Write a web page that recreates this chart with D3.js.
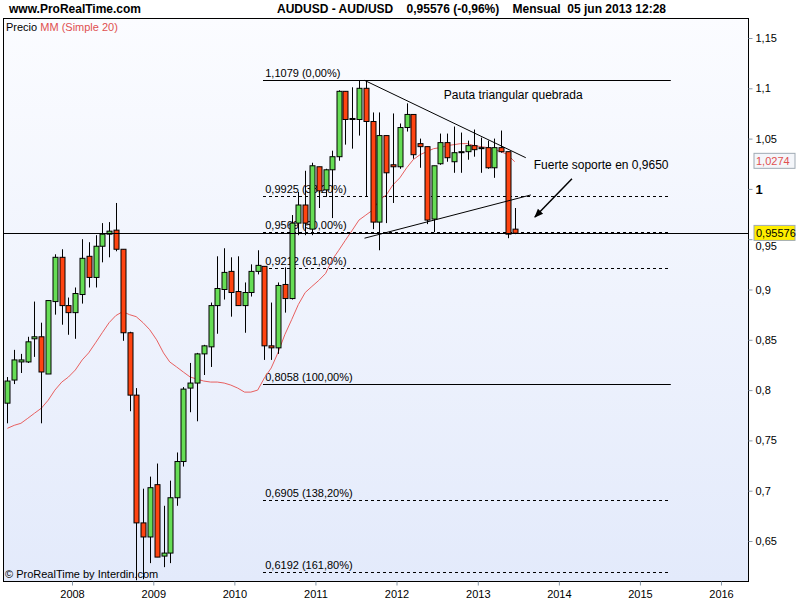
<!DOCTYPE html>
<html>
<head>
<meta charset="utf-8">
<script src="https://cdn.jsdelivr.net/npm/d3@7"></script>
<style>
body { margin: 0; background: #fff; }
svg { font-family: "Liberation Sans", Arial, sans-serif; }
</style>
</head>
<body>
<svg width="800" height="600"></svg>
<script>
// monthly candles, Mar 2007 .. Jun 2013
const startMonth = new Date(2007, 2, 1)
const opens = [0.787,0.810,0.828,0.828,0.851,0.853,0.816,0.888,0.932,0.884,0.877,0.895,0.933,0.912,0.943,0.955,0.959,0.940,0.857,0.795,
  0.668,0.654,0.706,0.635,0.638,0.693,0.729,0.802,0.807,0.836,0.843,0.884,0.900,0.918,0.898,0.884,0.897,0.918,0.923,0.844,
  0.842,0.905,0.891,0.966,0.984,0.960,1.022,0.999,1.019,1.032,1.097,1.069,1.069,1.100,1.067,0.967,1.053,1.024,1.022,1.061,
  1.074,1.045,1.042,0.970,1.025,1.046,1.027,1.036,1.037,1.043,1.040,1.041,1.021,1.041,1.037,0.960]
const closes = [0.809,0.830,0.830,0.848,0.853,0.818,0.889,0.932,0.884,0.877,0.896,0.931,0.912,0.943,0.955,0.958,0.940,0.857,0.795,0.668,
  0.654,0.703,0.634,0.638,0.693,0.729,0.801,0.807,0.836,0.844,0.884,0.901,0.917,0.897,0.884,0.897,0.918,0.924,0.844,0.842,
  0.904,0.891,0.966,0.984,0.966,1.023,0.998,1.019,1.032,1.097,1.069,1.070,1.100,1.067,0.967,1.053,1.016,1.022,1.061,1.074,
  1.034,1.042,0.969,1.023,1.046,1.031,1.036,1.037,1.043,1.039,1.041,1.021,1.041,1.037,0.955,0.956]
const highs = [0.813,0.840,0.836,0.853,0.888,0.867,0.889,0.935,0.940,0.892,0.902,0.950,0.947,0.954,0.966,0.967,0.986,0.940,0.858,0.802,
  0.702,0.714,0.727,0.685,0.710,0.738,0.803,0.827,0.837,0.845,0.887,0.933,0.941,0.932,0.933,0.907,0.925,0.939,0.923,0.887,
  0.907,0.922,0.974,0.997,1.018,1.026,1.022,1.020,1.038,1.098,1.097,1.101,1.108,1.108,1.076,1.076,1.053,1.075,1.065,1.085,
  1.074,1.050,1.042,1.023,1.055,1.055,1.062,1.056,1.048,1.059,1.051,1.048,1.050,1.058,1.037,0.981]
const lows = [0.767,0.806,0.817,0.827,0.833,0.767,0.816,0.875,0.865,0.855,0.851,0.886,0.902,0.902,0.927,0.932,0.938,0.849,0.779,0.611,
  0.612,0.628,0.634,0.624,0.628,0.685,0.724,0.778,0.769,0.815,0.823,0.856,0.890,0.873,0.884,0.857,0.893,0.915,0.830,0.830,
  0.836,0.877,0.890,0.954,0.954,0.954,0.981,0.992,0.971,1.028,1.044,1.040,1.053,0.992,0.960,0.939,0.966,0.986,1.020,1.057,
  1.030,1.021,0.965,0.957,1.024,1.027,1.016,1.016,1.029,1.032,1.016,1.020,1.011,1.036,0.951,0.955]
// MM (Simple 20)
const maValues = [0.762,0.765,0.767,0.772,0.777,0.782,0.790,0.800,0.808,0.813,0.820,0.830,0.837,0.847,0.857,0.867,0.874,0.878,0.875,0.873,
  0.867,0.860,0.850,0.837,0.828,0.823,0.818,0.813,0.811,0.809,0.808,0.808,0.807,0.805,0.802,0.798,0.798,0.800,0.812,0.822,
  0.837,0.855,0.870,0.885,0.897,0.903,0.909,0.916,0.929,0.939,0.949,0.959,0.969,0.974,0.979,0.989,0.994,1.004,1.011,1.021,
  1.029,1.034,1.037,1.040,1.041,1.043,1.044,1.045,1.045,1.043,1.042,1.041,1.039,1.037,1.034,1.027]
const fibLevels = [1.1079, 0.9925, 0.9569, 0.9212, 0.8058, 0.6905, 0.6192]
const fibLabels = ['1,1079 (0,00%)', '0,9925 (38,20%)', '0,9569 (50,00%)', '0,9212 (61,80%)', '0,8058 (100,00%)', '0,6905 (138,20%)', '0,6192 (161,80%)']
const fibSolid = [true, false, false, false, true, false, false]
const yTicks = [1.15, 1.1, 1.05, 1, 0.95, 0.9, 0.85, 0.8, 0.75, 0.7, 0.65]
const years = [2008, 2009, 2010, 2011, 2012, 2013, 2014, 2015, 2016]
const lastPrice = 0.95576
const lastMA = 1.0274

const svg = d3.select('svg')
const pLeft = 3, pRight = 748, pTop = 18, pBottom = 581

const x = d3.scaleTime()
  .domain([new Date(2008, 0, 1), new Date(2016, 0, 1)])
  .range([72, 721])
const y = d3.scaleLinear().domain([0.65, 1.15]).range([541, 38])
const mid = i => d3.timeDay.offset(d3.timeMonth.offset(startMonth, i), 15)
const fmt = v => String(+v.toFixed(5)).replace('.', ',')

const defs = svg.append('defs')
const grad = defs.append('linearGradient').attr('id', 'bg').attr('x1', 0).attr('x2', 0).attr('y1', 0).attr('y2', 1)
grad.append('stop').attr('offset', '0%').attr('stop-color', '#fbfcff')
grad.append('stop').attr('offset', '100%').attr('stop-color', '#e3eafb')
defs.append('clipPath').attr('id', 'clip').append('rect')
  .attr('x', pLeft).attr('y', pTop).attr('width', pRight - pLeft).attr('height', pBottom - pTop)

svg.append('rect').attr('x', pLeft).attr('y', pTop).attr('width', pRight - pLeft).attr('height', pBottom - pTop)
  .attr('fill', 'url(#bg)')

const plot = svg.append('g').attr('clip-path', 'url(#clip)')

// fibonacci levels
fibLevels.forEach((v, i) => {
  plot.append('line')
    .attr('x1', x(new Date(2010, 4, 10))).attr('x2', x(new Date(2015, 4, 20)))
    .attr('y1', Math.round(y(v)) + 0.5).attr('y2', Math.round(y(v)) + 0.5)
    .attr('stroke', '#000').attr('stroke-dasharray', fibSolid[i] ? null : '3,3')
  plot.append('text')
    .attr('x', x(new Date(2010, 4, 20))).attr('y', y(v) - 3)
    .attr('font-size', 11).text(fibLabels[i])
})

// moving average
plot.append('path')
  .datum(maValues)
  .attr('fill', 'none').attr('stroke', '#e86060').attr('stroke-width', 1)
  .attr('d', d3.line().x((d, i) => x(mid(i))).y(d => y(d)))

// candles
const idx = d3.range(opens.length)
const c = plot.selectAll('g.candle').data(idx).enter().append('g')
c.append('line')
  .attr('x1', i => Math.round(x(mid(i))) + 0.5).attr('x2', i => Math.round(x(mid(i))) + 0.5)
  .attr('y1', i => y(highs[i])).attr('y2', i => y(lows[i]))
  .attr('stroke', '#000')
c.append('rect')
  .attr('x', i => Math.round(x(mid(i))) - 2)
  .attr('width', 5)
  .attr('y', i => y(Math.max(opens[i], closes[i])))
  .attr('height', i => Math.max(1, Math.abs(y(opens[i]) - y(closes[i]))))
  .attr('fill', i => closes[i] >= opens[i] ? '#66dd55' : '#ff4411')
  .attr('stroke', '#000')

// last price line
plot.append('line')
  .attr('x1', pLeft).attr('x2', pRight)
  .attr('y1', Math.round(y(lastPrice)) + 0.5).attr('y2', Math.round(y(lastPrice)) + 0.5)
  .attr('stroke', '#000')

// triangle
plot.append('line')
  .attr('x1', x(new Date(2011, 7, 10))).attr('y1', y(1.1079))
  .attr('x2', x(new Date(2013, 7, 5))).attr('y2', y(1.031))
  .attr('stroke', '#000')
plot.append('line')
  .attr('x1', x(new Date(2011, 7, 10))).attr('y1', y(0.951))
  .attr('x2', x(new Date(2013, 7, 28))).attr('y2', y(0.994))
  .attr('stroke', '#000')
plot.append('text').attr('x', x(new Date(2012, 7, 1))).attr('y', y(1.0895)).attr('font-size', 12)
  .text('Pauta triangular quebrada')
plot.append('text').attr('x', x(new Date(2013, 8, 10))).attr('y', y(1.02)).attr('font-size', 12)
  .text('Fuerte soporte en 0,9650')

// arrow
defs.append('marker').attr('id', 'arr').attr('viewBox', '0 0 10 10').attr('refX', 9).attr('refY', 5)
  .attr('markerWidth', 6).attr('markerHeight', 6).attr('orient', 'auto')
  .append('path').attr('d', 'M0,1 L10,5 L0,9 z').attr('fill', '#000')
plot.append('line')
  .attr('x1', x(new Date(2014, 2, 1))).attr('y1', y(1.01))
  .attr('x2', x(new Date(2013, 8, 15))).attr('y2', y(0.972))
  .attr('stroke', '#000').attr('stroke-width', 1.5).attr('marker-end', 'url(#arr)')

// frame
svg.append('rect').attr('x', pLeft + 0.5).attr('y', pTop + 0.5)
  .attr('width', pRight - pLeft).attr('height', pBottom - pTop)
  .attr('fill', 'none').attr('stroke', '#000')

// right axis (0,95 label sits under the price box, as in the original)
const yAxis = svg.append('g').attr('transform', `translate(${pRight + 0.5},0)`)
  .call(d3.axisRight(y).tickValues(yTicks).tickSize(4).tickFormat(fmt))
yAxis.select('.domain').remove()
yAxis.selectAll('line').attr('stroke', '#8899aa')
yAxis.selectAll('text').attr('fill', '#000')
  .attr('font-weight', d => d === 1 ? 'bold' : null)
  .attr('font-size', d => d === 1 ? 13 : 11)
  .attr('dy', d => d === 0.95 ? '0.9em' : '0.32em')

// bottom axis
const xAxis = svg.append('g').attr('transform', `translate(0,${pBottom + 0.5})`)
  .call(d3.axisBottom(x).tickValues(years.map(v => new Date(v, 0, 1))).tickSize(4).tickFormat(d3.timeFormat('%Y')))
xAxis.select('.domain').remove()
xAxis.selectAll('line').attr('stroke', '#8899aa')
xAxis.selectAll('text').attr('font-size', 11).attr('fill', '#000').attr('dy', '0.9em')

// value boxes on the right
function valueBox(v, fill, stroke, color) {
  const g = svg.append('g').attr('transform', `translate(${pRight + 6},${y(v)})`)
  g.append('rect').attr('x', 0).attr('y', -8).attr('width', 41).attr('height', 15)
    .attr('fill', fill).attr('stroke', stroke)
  g.append('text').attr('x', 2).attr('y', 4).attr('font-size', 11).attr('fill', color).text(fmt(v))
}
valueBox(lastMA, '#f4f6fa', '#a0aab4', '#e05050')
valueBox(lastPrice, '#ffee00', '#a0aab4', '#000')

// header
svg.append('text').attr('x', 9).attr('y', 13).attr('font-size', 12).attr('font-weight', 'bold')
  .text('www.ProRealTime.com')
svg.append('text').attr('x', 277).attr('y', 13).attr('font-size', 12).attr('font-weight', 'bold')
  .attr('xml:space', 'preserve')
  .text('AUDUSD - AUD/USD    0,95576 (-0,96%)    Mensual  05 jun 2013 12:28')
const leg = svg.append('text').attr('x', 6).attr('y', 31).attr('font-size', 11)
leg.append('tspan').text('Precio ')
leg.append('tspan').attr('fill', '#e05050').text('MM (Simple 20)')
svg.append('text').attr('x', 5).attr('y', 578).attr('font-size', 11).text('© ProRealTime by Interdin.com')
</script>
</body>
</html>
